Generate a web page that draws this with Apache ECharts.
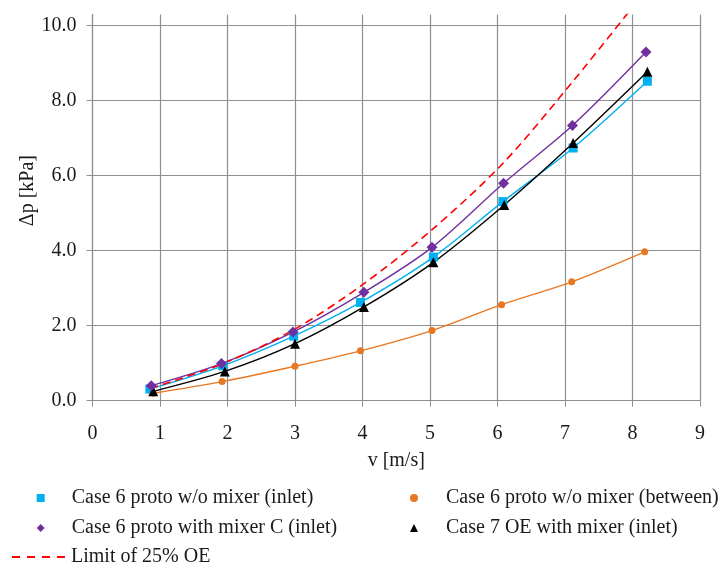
<!DOCTYPE html>
<html>
<head>
<meta charset="utf-8">
<script src="https://cdn.jsdelivr.net/npm/echarts@6/dist/echarts.min.js"></script>
<style>
  html, body {margin:0;padding:0;background:#fff;}
  #chart {width:725px;height:568px;}
</style>
</head>
<body>
<div id="chart"></div>
<script>
// values: v [m/s] and dp [kPa]
var vNoMixIn = [0.85, 1.93, 2.98, 3.97, 5.05, 6.08, 7.12, 8.22];
var dpNoMixIn = [0.31, 0.93, 1.72, 2.62, 3.83, 5.31, 6.74, 8.52];

var vNoMixBetween = [0.90, 1.92, 3.00, 3.97, 5.03, 6.06, 7.10, 8.18];
var dpNoMixBetween = [0.20, 0.51, 0.92, 1.33, 1.87, 2.56, 3.17, 3.97];

var vMixC = [0.87, 1.91, 2.97, 4.02, 5.03, 6.09, 7.11, 8.20];
var dpMixC = [0.40, 0.99, 1.83, 2.89, 4.09, 5.80, 7.34, 9.30];

var vCase7 = [0.90, 1.96, 3.00, 4.02, 5.05, 6.10, 7.12, 8.22];
var dpCase7 = [0.25, 0.78, 1.52, 2.50, 3.69, 5.22, 6.87, 8.77];

var vLimit = [0.86, 1.92, 2.97, 3.99, 5.03, 6.08, 7.11, 8.20];
var dpLimit = [0.33, 0.98, 1.88, 3.08, 4.56, 6.33, 8.50, 10.95];

var xTicks = [0, 9, 1];      // min, max, step
var yTicks = [0, 10.3, 2];

var names = [
  'Case 6 proto w/o mixer (inlet)',
  'Case 6 proto w/o mixer (between)',
  'Case 6 proto with mixer C (inlet)',
  'Case 7 OE with mixer (inlet)',
  'Limit of 25% OE'
];

function pairs(xs, ys) {
  return xs.map(function (x, i) { return [x, ys[i]]; });
}

var font = 'Liberation Serif';
var gridColor = '#8f8f8f';
// dashed legend sample
var dashIcon = 'path://M0,0h8v2h-8z M15,0h8v2h-8z M30,0h8v2h-8z M45,0h8v2h-8z';

var myChart = echarts.init(document.getElementById('chart'));

function dataSeries(name, xs, ys, color, symbol, size) {
  return {
    name: name,
    type: 'line',
    smooth: 0.3,
    data: pairs(xs, ys),
    symbol: symbol,
    symbolSize: size,
    showSymbol: true,
    itemStyle: {color: color},
    lineStyle: {color: color, width: 1.4},
    emphasis: {disabled: true}
  };
}

var legendText = function (pad) {
  return {fontFamily: font, fontSize: 20, color: '#1a1a1a', lineHeight: 20, padding: [0, 0, 0, pad]};
};

var option = {
  animation: false,
  grid: {left: 92.5, right: 25, top: 14.5, bottom: 167.3},
  legend: [
    {
      orient: 'vertical', left: 36.7, top: 488, padding: 0, itemGap: 10,
      itemWidth: 8, itemHeight: 8,
      textStyle: legendText(22),
      data: [{name: names[0], icon: 'rect'}, {name: names[2], icon: 'diamond'}]
    },
    {
      orient: 'vertical', left: 410, top: 488, padding: 0, itemGap: 10,
      itemWidth: 8, itemHeight: 8,
      textStyle: legendText(23),
      data: [{name: names[1], icon: 'circle'}, {name: names[3], icon: 'triangle'}]
    },
    {
      orient: 'vertical', left: 12, top: 547, padding: 0,
      itemWidth: 53, itemHeight: 2,
      textStyle: legendText(1),
      data: [{name: names[4], icon: dashIcon}]
    }
  ],
  xAxis: {
    type: 'value',
    min: xTicks[0], max: xTicks[1], interval: xTicks[2],
    name: 'v [m/s]',
    nameLocation: 'middle',
    nameGap: 50,
    nameMoveOverlap: false,
    nameTextStyle: {fontFamily: font, fontSize: 20, color: '#1a1a1a'},
    axisLine: {show: true, onZero: false, lineStyle: {color: gridColor, width: 1.2}},
    axisTick: {show: true, length: 6, lineStyle: {color: gridColor}},
    axisLabel: {margin: 23, fontFamily: font, fontSize: 20, color: '#1a1a1a'},
    splitLine: {show: true, lineStyle: {color: gridColor, width: 1.2}}
  },
  yAxis: {
    type: 'value',
    min: yTicks[0], max: yTicks[1], interval: yTicks[2],
    name: 'Δp [kPa]',
    nameLocation: 'middle',
    nameGap: 55,
    nameMoveOverlap: false,
    nameTextStyle: {fontFamily: font, fontSize: 20, color: '#1a1a1a', padding: [0, 0, 0, 34]},
    axisLine: {show: true, onZero: false, lineStyle: {color: gridColor, width: 1.2}},
    axisTick: {show: true, length: 6, lineStyle: {color: gridColor}},
    axisLabel: {
      margin: 16, fontFamily: font, fontSize: 20, color: '#1a1a1a',
      showMaxLabel: false,
      formatter: function (v) { return v.toFixed(1); }
    },
    splitLine: {show: true, showMaxLine: false, lineStyle: {color: gridColor, width: 1.2}}
  },
  series: [
    dataSeries(names[1], vNoMixBetween, dpNoMixBetween, '#E87722', 'circle', 7),
    dataSeries(names[0], vNoMixIn, dpNoMixIn, '#00B0F0', 'rect', 9),
    dataSeries(names[3], vCase7, dpCase7, '#000000', 'triangle', 10),
    dataSeries(names[2], vMixC, dpMixC, '#7030A0', 'diamond', 11),
    {
      name: names[4],
      type: 'line',
      smooth: 0.3,
      data: pairs(vLimit, dpLimit),
      symbol: 'none',
      itemStyle: {color: '#FF0000'},
      lineStyle: {color: '#FF0000', width: 1.6, type: [8, 5]},
      emphasis: {disabled: true}
    }
  ]
};
myChart.setOption(option);
</script>
</body>
</html>
